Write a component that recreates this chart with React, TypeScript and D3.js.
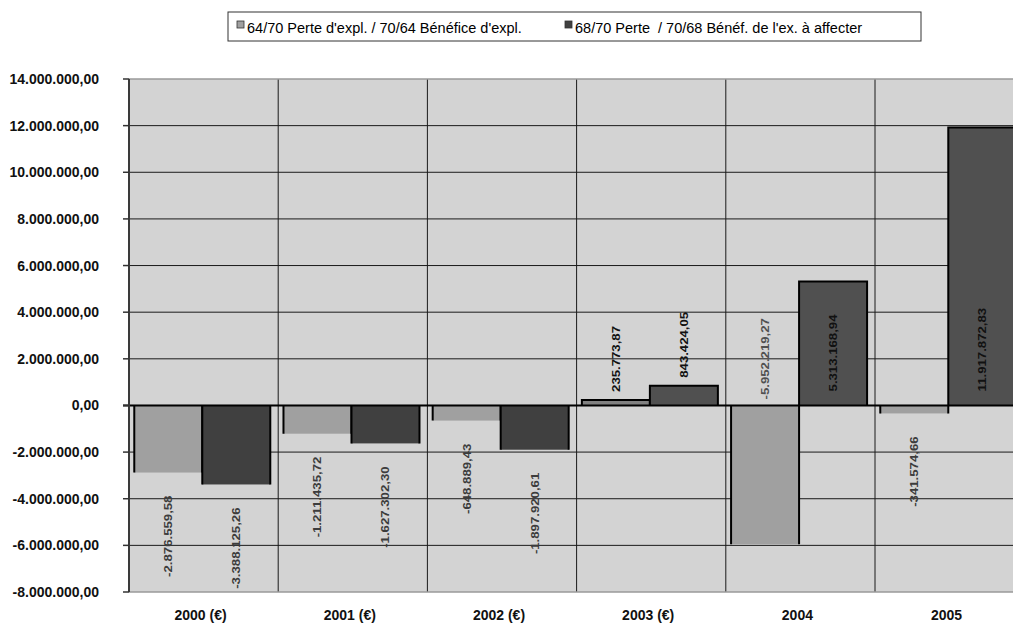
import React from 'react';
import * as d3 from 'd3';

const WIDTH = 1013;
const HEIGHT = 624;

const categories = ['2000 (€)', '2001 (€)', '2002 (€)', '2003 (€)', '2004', '2005'];
const seriesNames = [
    '64/70 Perte d\'expl. / 70/64 Bénéfice d\'expl.',
    '68/70 Perte  / 70/68 Bénéf. de l\'ex. à affecter',
];
const perteExpl = [-2876559.58, -1211435.72, -648889.43, 235773.87, -5952219.27, -341574.66];
const perteExercice = [-3388125.26, -1627302.30, -1897920.61, 843424.05, 5313168.94, 11917872.83];
const yTicks = [-8000000, -6000000, -4000000, -2000000, 0, 2000000, 4000000, 6000000, 8000000,
                10000000, 12000000, 14000000];

const FONT = '"Liberation Sans", Arial, sans-serif';
const LABEL_SIZE = 13.2;

// positive / negative fills per series
const FILLS = [
    {pos: '#808080', neg: '#a0a0a0'},
    {pos: '#505050', neg: '#404040'},
];

const locale = d3.formatLocale({decimal: ',', thousands: '.', grouping: [3], currency: ['', ''], minus: '-'});
const fmt = locale.format(',.2f');

const margin = {top: 79, left: 129, bottom: 32};
const plotBottom = HEIGHT - margin.bottom;
const bandStep = 149.2;

// rough Arial bold advance widths, in em
const textLength = (s: string, size: number) => {
    let w = 0;
    for (const c of s) {
        if (c === '.' || c === ',') w += 0.278;
        else if (c === '-') w += 0.333;
        else w += 0.556;
    }
    return w * size;
};

const App = () => {
    const x0 = d3.scaleBand<string>()
        .domain(categories)
        .range([margin.left, margin.left + bandStep * categories.length])
        .paddingInner(0)
        .paddingOuter(0);
    const x1 = d3.scaleBand<number>()
        .domain([0, 1])
        .range([0, x0.bandwidth()])
        .paddingInner(0)
        .paddingOuter(0.097)
        .align(0.4);
    const y = d3.scaleLinear()
        .domain([yTicks[0], yTicks[yTicks.length - 1]])
        .range([plotBottom, margin.top]);
    const zero = y(0);
    const plotRight = x0.range()[1];

    const series = [perteExpl, perteExercice];

    const bars = categories.flatMap((cat, i) => series.map((values, s) => {
        const v = values[i];
        const bx = (x0(cat) ?? 0) + (x1(s) ?? 0);
        const bw = x1.bandwidth();
        const end = y(v);
        return {cat, s, v, bx, bw, end};
    }));

    const labelFor = (b: typeof bars[number]) => {
        const text = fmt(b.v);
        const len = textLength(text, LABEL_SIZE);
        const cx = b.bx + b.bw / 2;
        if (b.v < 0) {
            const top = b.end + 23;
            if (top + len <= plotBottom + 10) {
                return {text, cx, y: top, anchor: 'end', color: '#3c3c3c'};
            }
            return {text, cx, y: zero - 6, anchor: 'start', color: '#505050'};
        }
        const h = zero - b.end;
        if (h > len + 20) {
            return {text, cx, y: zero - 14, anchor: 'start', color: '#111'};
        }
        return {text, cx, y: b.end - 8, anchor: 'start', color: '#111'};
    };

    return (
        <svg width={WIDTH} height={HEIGHT}
             style={{position: 'absolute', top: 0, left: 0, background: '#fff'}}
             fontFamily={FONT}>
            {/* plot area */}
            <rect x={margin.left} y={margin.top} width={plotRight - margin.left}
                  height={plotBottom - margin.top} fill="#d3d3d3"/>

            {/* horizontal grid */}
            {yTicks.slice(1, -1).map(t => (
                <line key={t} x1={margin.left} x2={plotRight} y1={y(t)} y2={y(t)}
                      stroke="#1a1a1a" strokeWidth={1}/>
            ))}
            {/* vertical grid */}
            {categories.slice(1).map(c => (
                <line key={c} x1={x0(c)} x2={x0(c)} y1={margin.top} y2={plotBottom}
                      stroke="#1a1a1a" strokeWidth={1}/>
            ))}
            <line x1={margin.left} x2={plotRight} y1={margin.top} y2={margin.top}
                  stroke="#9a9a9a" strokeWidth={1.5}/>
            <line x1={margin.left} x2={plotRight} y1={plotBottom} y2={plotBottom}
                  stroke="#9a9a9a" strokeWidth={1.5}/>

            {/* bars */}
            {bars.map(b => {
                const top = Math.min(b.end, zero);
                const h = Math.abs(b.end - zero);
                const fill = b.v >= 0 ? FILLS[b.s].pos : FILLS[b.s].neg;
                const edge = b.v >= 0
                             ? `M${b.bx},${zero}V${b.end}H${b.bx + b.bw}V${zero}`
                             : `M${b.bx},${zero}V${b.end}M${b.bx + b.bw},${b.end}V${zero}`;
                return (
                    <g key={`${b.cat}-${b.s}`}>
                        <rect x={b.bx} y={top} width={b.bw} height={h} fill={fill}/>
                        <path d={edge} fill="none" stroke="#000" strokeWidth={2}/>
                    </g>
                );
            })}

            {/* zero line and y axis */}
            <line x1={margin.left - 6} x2={plotRight} y1={zero} y2={zero} stroke="#000" strokeWidth={2}/>
            <line x1={margin.left} x2={margin.left} y1={margin.top} y2={plotBottom}
                  stroke="#3a3a3a" strokeWidth={2}/>
            {yTicks.map(t => (
                <g key={t}>
                    <line x1={margin.left - 6} x2={margin.left} y1={y(t)} y2={y(t)} stroke="#333" strokeWidth={1.5}/>
                    <text x={99} y={y(t)} dy="0.36em" textAnchor="end" fontSize={14}
                          fontWeight="bold" fill="#111">{fmt(t)}</text>
                </g>
            ))}

            {/* value labels */}
            {bars.map(b => {
                const l = labelFor(b);
                return (
                    <text key={`l-${b.cat}-${b.s}`}
                          transform={`translate(${l.cx + 4},${l.y}) rotate(-90) scale(1,0.86)`}
                          textAnchor={l.anchor} fontSize={LABEL_SIZE} fontWeight="bold"
                          fill={l.color}>{l.text}</text>
                );
            })}

            {/* category labels */}
            {categories.map(c => (
                <text key={c} x={(x0(c) ?? 0) + x0.bandwidth() / 2 - 3} y={620}
                      textAnchor="middle" fontSize={14} fontWeight="bold" fill="#111">{c}</text>
            ))}

            {/* legend */}
            <rect x={228} y={12} width={693} height={29} fill="#fff" stroke="#333" strokeWidth={1}/>
            {seriesNames.map((name, s) => {
                const lx = s === 0 ? 237 : 565;
                return (
                    <g key={name}>
                        <rect x={lx} y={21} width={7} height={7} fill={FILLS[s].neg}
                              stroke="#333" strokeWidth={0.8}/>
                        <text x={lx + 10} y={33} fontSize={14.5} fill="#000"
                              style={{whiteSpace: 'pre'}}>{name}</text>
                    </g>
                );
            })}
        </svg>
    );
};

export default App;
